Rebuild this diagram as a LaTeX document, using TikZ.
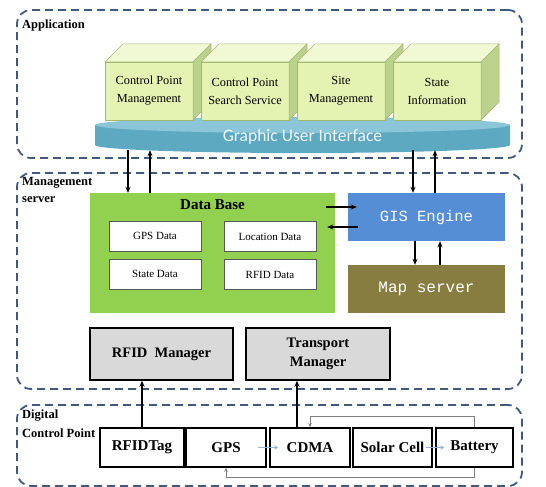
\documentclass[tikz,border=0pt]{standalone}
\usepackage{fontspec}
\setmainfont{Liberation Serif}
\newfontfamily\guifont{Carlito}
\newfontfamily\codefont{Liberation Mono}
\usetikzlibrary{arrows.meta}

\definecolor{zoneblue}{HTML}{3F5A7E}
\definecolor{cubefront}{HTML}{E4F3B2}
\definecolor{cubetop}{HTML}{F1F9D4}
\definecolor{cubeside}{HTML}{BCD18C}
\definecolor{cubeline}{HTML}{A2B872}
\definecolor{guibody}{HTML}{5EA9C2}
\definecolor{guitop}{HTML}{8AC5D8}
\definecolor{dbgreen}{HTML}{92D050}
\definecolor{gisblue}{HTML}{558ED5}
\definecolor{mapolive}{HTML}{877D40}
\definecolor{mgrgray}{HTML}{D9D9D9}
\definecolor{flowblue}{HTML}{95B3D7}
\definecolor{fbgray}{HTML}{7F7F7F}

\tikzset{
  zone/.style={draw=zoneblue, line width=1.8pt, dash pattern=on 8pt off 5pt, rounded corners=14pt},
  zonelabel/.style={font=\fontsize{12.5}{17}\selectfont\bfseries, align=left, anchor=north west, inner sep=0pt},
  appbox/.style={fill=cubefront, draw=cubeline, line width=0.5pt, minimum width=88pt, minimum height=58pt,
    align=center, font=\fontsize{12.3}{18}\selectfont, inner sep=0pt, outer sep=0pt},
  cubetopface/.style={fill=cubetop, draw=cubeline, line width=0.5pt},
  cubesideface/.style={fill=cubeside, draw=cubeline, line width=0.5pt},
  guitext/.style={text=white!92!guibody, font=\guifont\fontsize{17.5}{20}\selectfont, minimum width=415pt, minimum height=26pt, inner sep=0pt},
  dbbox/.style={fill=dbgreen, minimum width=245pt, minimum height=120pt, inner sep=0pt},
  dbtitle/.style={font=\fontsize{15}{17}\selectfont\bfseries, inner sep=0pt},
  datacell/.style={fill=white, draw=black!65, line width=0.8pt, minimum width=92pt, minimum height=30pt,
    font=\fontsize{11}{13}\selectfont, inner sep=0pt},
  gisbox/.style={fill=gisblue, text=white, minimum width=157pt, minimum height=48pt, font=\codefont\fontsize{15.5}{18}\selectfont, inner sep=0pt},
  mapbox/.style={fill=mapolive, text=white, minimum width=157pt, minimum height=48pt, font=\codefont\fontsize{16}{18}\selectfont, inner sep=0pt},
  mgrbox/.style={fill=mgrgray, draw=black, line width=1.5pt, minimum width=143pt, minimum height=52pt, align=center,
    font=\fontsize{14.5}{19}\selectfont\bfseries, inner sep=0pt},
  dcpbox/.style={fill=white, draw=black, line width=1.5pt, minimum height=39pt, font=\fontsize{15}{18}\selectfont\bfseries, inner sep=0pt},
  arr/.style={-{Stealth[length=6pt,width=5pt]}, line width=1.2pt},
  flow/.style={-{Stealth[length=4pt,width=4pt]}, draw=flowblue, line width=1pt},
  fb/.style={-{Stealth[length=4pt,width=3.5pt]}, draw=fbgray, line width=0.6pt}
}

\begin{document}
\begin{tikzpicture}[x=1pt, y=-1pt]
  \useasboundingbox (0,0) rectangle (546,487);
  % Zones
  \node[zone, minimum width=505pt, minimum height=148pt] (app) at (269.5,84) {};
  \node[zone, minimum width=505pt, minimum height=216pt] (mgmt) at (269.5,281) {};
  \node[zone, minimum width=505pt, minimum height=81pt] (dcp) at (269.5,445.5) {};
  \node[zonelabel] (applbl) at (22,20) {Application};
  \node[zonelabel] (mgmtlbl) at (22,177) {Management\\server};
  \node[zonelabel, font=\fontsize{12.5}{19}\selectfont\bfseries] (dcplbl) at (22,410) {Digital\\Control Point};
  % Graphic user interface disc
  \fill[guibody] (95,125) -- (95,145) arc[start angle=180, end angle=360, x radius=207.5pt, y radius=8pt] -- (510,125) -- cycle;
  \fill[guitop] (302.5,125) ellipse[x radius=207.5pt, y radius=8pt];
  \node[guitext] (gui) at (302.5,137) {Graphic User Interface};
  % Application cubes
  \foreach \n/\cx/\la/\lb in {cpm/149/Control Point/Management, cps/245/Control Point/Search Service,
      sm/341/Site/Management, si/437/State/Information}{
    \node[appbox] (\n) at (\cx,91) {\la\\\lb};
    \filldraw[cubetopface] (\n.north west) -- ++(18pt,18pt) -- ++(88pt,0pt) -- (\n.north east) -- cycle;
    \filldraw[cubesideface] (\n.north east) -- ++(18pt,18pt) -- ++(0pt,-58pt) -- (\n.south east) -- cycle;
  }
  % Management server
  \node[dbbox] (db) at (212.5,253) {};
  \node[dbtitle] (dbt) at (212.5,205) {Data Base};
  \node[datacell] (gpsd) at (155,236) {GPS Data};
  \node[datacell] (locd) at (270,236.5) {Location Data};
  \node[datacell] (stated) at (155,274) {State Data};
  \node[datacell] (rfidd) at (270,274.5) {RFID Data};
  \node[gisbox] (gis) at (426.5,217) {GIS Engine};
  \node[mapbox] (map) at (426.5,289) {Map server};
  \node[mgrbox] (rfidmgr) at (161.5,354) {RFID~ Manager};
  \node[mgrbox, minimum width=144pt] (tmgr) at (318,354) {Transport\\Manager};
  % Digital control point
  \node[dcpbox, minimum width=84pt] (rfidtag) at (142,447.5) {RFIDTag};
  \node[dcpbox, minimum width=80pt] (gps) at (226,447.5) {GPS};
  \node[dcpbox, minimum width=80pt] (cdma) at (310,447.5) {CDMA};
  \node[dcpbox, minimum width=79pt] (solar) at (392.5,447.5) {Solar Cell};
  \node[dcpbox, minimum width=77pt] (battery) at (474.5,447.5) {Battery};
  % Connector columns and rows
  \coordinate (xa) at (128,0);
  \coordinate (xb) at (150,0);
  \coordinate (xc) at (413,0);
  \coordinate (xd) at (435,0);
  \coordinate (xe) at (415,0);
  \coordinate (xf) at (440,0);
  \coordinate (xg) at (297,0);
  \coordinate (ya) at (0,207);
  \coordinate (yb) at (0,227);
  % Edges
  \draw[arr] (gui.south -| xa) -- (db.north -| xa);
  \draw[arr] (db.north -| xb) -- (gui.south -| xb);
  \draw[arr] (gui.south -| xc) -- (gis.north -| xc);
  \draw[arr] (gis.north -| xd) -- (gui.south -| xd);
  \draw[arr, shorten <=-9pt, shorten >=-9pt] (db.east |- ya) -- (gis.west |- ya);
  \draw[arr, shorten <=-10pt, shorten >=-8pt] (gis.west |- yb) -- (db.east |- yb);
  \draw[arr] (gis.south -| xe) -- (map.north -| xe);
  \draw[arr] (map.north -| xf) -- (gis.south -| xf);
  \draw[arr] (rfidtag.north) -- (rfidtag.north |- rfidmgr.south);
  \draw[arr] (cdma.north -| xg) -- (tmgr.south -| xg);
  \draw[flow, shorten <=-9pt, shorten >=-9pt] (gps.east) -- (cdma.west);
  \draw[flow, shorten <=-7pt, shorten >=-9pt] (solar.east) -- (battery.west);
  \draw[fb] (battery.north) -- ++(0pt,11pt) -| (cdma.north);
  \draw[fb] (battery.south) -- ++(0pt,-10pt) -| (gps.south);
\end{tikzpicture}
\end{document}
